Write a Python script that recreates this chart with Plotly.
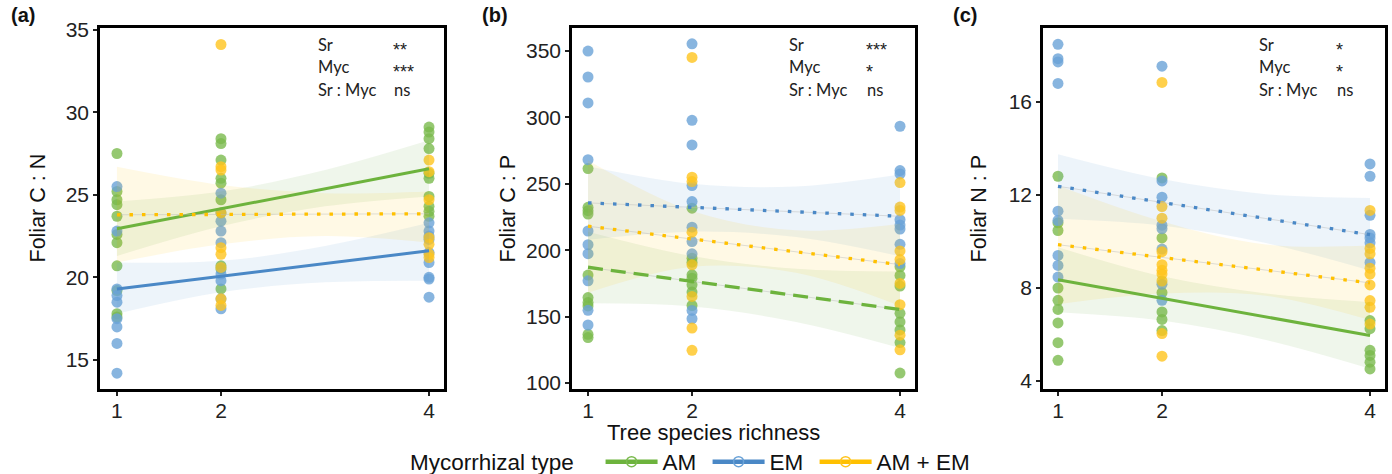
import plotly.graph_objects as go

# ---------------- data ----------------
RICHNESS_TICKS = [1, 2, 4]
GROUP_NAMES = ["AM", "EM", "AM + EM"]

# Panel (a): Foliar C : N  -- observations per tree species richness level
CN_AM = {1: [27.5, 25.2, 24.7, 24.4, 23.7, 22.6, 22.1, 20.7, 19.2, 17.8, 17.6],
         2: [28.4, 28.1, 27.1, 26.0, 25.7, 24.7, 20.7, 20.5, 19.3],
         4: [29.1, 28.8, 28.4, 27.8, 26.3, 26.0, 24.9, 24.3, 24.0, 23.7]}
CN_EM = {1: [25.5, 22.8, 19.3, 18.9, 18.5, 17.5, 17.0, 16.0, 14.2],
         2: [25.1, 23.9, 23.4, 22.8, 22.1, 20.2, 19.8, 18.7, 18.1],
         4: [23.3, 22.8, 22.5, 22.3, 21.5, 20.9, 20.0, 19.9, 18.8]}
CN_MIX = {2: [34.1, 26.7, 26.5, 23.9, 21.8, 21.4, 20.6, 18.7, 18.3],
          4: [27.1, 26.4, 24.7, 22.4, 22.0, 21.4, 21.2]}

# Panel (b): Foliar C : P
CP_AM = {1: [261.5, 232.3, 229.8, 227.3, 181.3, 164.4, 160.6, 158.1, 136.7, 134.2],
         2: [231.7, 194.0, 191.0, 181.5, 179.0, 174.0, 168.5, 158.4],
         4: [187.5, 181.0, 173.0, 152.5, 146.0, 140.0, 130.5, 107.5]}
CP_EM = {1: [350.0, 330.5, 311.0, 268.2, 214.5, 204.2, 197.4, 177.0, 154.8, 143.7],
         2: [355.5, 297.9, 279.3, 248.7, 236.7, 217.4, 206.6, 197.3, 154.7, 148.4],
         4: [293.4, 260.0, 257.5, 223.0, 219.0, 216.0, 204.5, 190.0]}
CP_MIX = {2: [345.2, 255.0, 251.7, 213.6, 189.0, 165.2, 141.4, 124.6],
          4: [251.0, 232.5, 230.0, 199.5, 193.0, 175.0, 159.0, 136.0, 125.0]}

# Panel (c): Foliar N : P
NP_AM = {1: [12.8, 10.8, 10.47, 8.0, 7.47, 7.08, 6.5, 5.65, 4.89],
         2: [12.73, 10.15, 7.8, 6.97, 6.65, 6.17],
         4: [6.6, 6.25, 5.32, 5.1, 4.81, 4.52]}
NP_EM = {1: [18.47, 17.85, 17.71, 16.79, 11.3, 10.9, 9.4, 8.97, 8.47],
         2: [17.53, 12.6, 11.9, 10.7, 10.55, 9.67, 8.16, 7.47],
         4: [13.33, 12.8, 11.12, 10.3, 10.15, 9.94, 9.1]}
NP_MIX = {2: [16.83, 11.5, 11.0, 9.56, 9.0, 8.76, 8.6, 8.3, 6.04, 5.07],
          4: [11.33, 9.7, 9.47, 8.85, 8.6, 8.13, 7.46, 7.17, 6.45]}

# Fitted regression lines (values at richness 1 and 4)
FIT_X = [1, 4]
CN_FIT_AM, CN_FIT_EM, CN_FIT_MIX = [22.94, 26.58], [19.29, 21.61], [23.79, 23.85]
CP_FIT_AM, CP_FIT_EM, CP_FIT_MIX = [187.2, 155.3], [235.7, 225.6], [218.1, 189.2]
NP_FIT_AM, NP_FIT_EM, NP_FIT_MIX = [8.35, 5.96], [12.37, 10.29], [9.86, 8.22]

# Confidence bands (lower, upper) at richness 1, 2, 3, 4
BAND_X = [1, 2, 3, 4]
CN_BAND_AM = ([21.3, 23.1, 24.3, 24.9], [24.6, 25.2, 26.5, 28.3])
CN_BAND_EM = ([17.8, 19.1, 19.7, 19.8], [20.9, 21.0, 21.9, 23.3])
CN_BAND_MIX = ([20.9, 22.0, 22.5, 22.1], [26.7, 25.6, 25.1, 25.2])
CP_BAND_AM = ([160.0, 157.6, 146.0, 126.4], [214.0, 195.6, 186.0, 184.0])
CP_BAND_EM = ([208.0, 214.0, 210.0, 195.5], [263.3, 250.0, 248.0, 257.0])
CP_BAND_MIX = ([167.9, 187.5, 183.0, 158.0], [267.6, 229.5, 215.0, 220.0])
NP_BAND_AM = ([6.96, 6.6, 5.76, 4.53], [9.75, 8.5, 7.76, 7.39])
NP_BAND_EM = ([10.97, 10.68, 9.93, 8.75], [13.75, 12.68, 12.03, 11.87])
NP_BAND_MIX = ([7.3, 7.76, 7.67, 6.62], [12.4, 10.86, 9.87, 9.82])

# Significance annotations
STAT_TERMS = ["Sr", "Myc", "Sr : Myc"]
CN_STATS = ["**", "***", "ns"]
CP_STATS = ["***", "*", "ns"]
NP_STATS = ["*", "*", "ns"]

# ---------------- styling ----------------
W, H = 1392, 474
FONT = "Liberation Sans"
PT_COL = {"AM": "rgb(122,186,78)", "EM": "rgb(106,162,215)", "AM + EM": "rgb(255,196,30)"}
LN_COL = {"AM": "#6DB33D", "EM": "#4A88C6", "AM + EM": "#FFC000"}
BAND_COL = {"AM": "rgba(112,173,71,0.11)", "EM": "rgba(91,155,213,0.11)",
            "AM + EM": "rgba(255,192,0,0.10)"}
DOT = "3.5px,9px"
DASH = "15px,8px"


def pxx(x):
    return x / W


def pxy(y):
    return 1 - y / H


Y_DOMAIN = [pxy(389), pxy(28)]

panels = [
    dict(key="", xdom=[100, 444], xr=[0.837, 4.144], yr=[13.24, 35.1], ticks=[15, 20, 25, 30, 35],
         title="Foliar C : N", tcx=37, label="(a)", lx=9, sx=316, vx=391,
         pts=[CN_AM, CN_EM, CN_MIX], fits=[CN_FIT_AM, CN_FIT_EM, CN_FIT_MIX],
         bands=[CN_BAND_AM, CN_BAND_EM, CN_BAND_MIX], dashes=["solid", "solid", DOT],
         stats=CN_STATS),
    dict(key="2", xdom=[572, 915], xr=[0.846, 4.144], yr=[95.5, 367.4],
         ticks=[100, 150, 200, 250, 300, 350],
         title="Foliar C : P", tcx=507, label="(b)", lx=480, sx=787, vx=864,
         pts=[CP_AM, CP_EM, CP_MIX], fits=[CP_FIT_AM, CP_FIT_EM, CP_FIT_MIX],
         bands=[CP_BAND_AM, CP_BAND_EM, CP_BAND_MIX], dashes=[DASH, DOT, DOT],
         stats=CP_STATS),
    dict(key="3", xdom=[1043, 1385], xr=[0.856, 4.144], yr=[3.66, 19.17], ticks=[4, 8, 12, 16],
         title="Foliar N : P", tcx=978, label="(c)", lx=951, sx=1257, vx=1334,
         pts=[NP_AM, NP_EM, NP_MIX], fits=[NP_FIT_AM, NP_FIT_EM, NP_FIT_MIX],
         bands=[NP_BAND_AM, NP_BAND_EM, NP_BAND_MIX], dashes=["solid", DOT, DOT],
         stats=NP_STATS),
]

fig = go.Figure()
annotations = []

for p in panels:
    xa, ya = "x" + p["key"], "y" + p["key"]
    # points
    for g, data in zip(GROUP_NAMES, p["pts"]):
        xs, ys = [], []
        for r in RICHNESS_TICKS:
            for v in data.get(r, []):
                xs.append(r)
                ys.append(v)
        fig.add_trace(go.Scatter(x=xs, y=ys, mode="markers", xaxis=xa, yaxis=ya,
                                 marker=dict(size=11, color=PT_COL[g], opacity=0.8,
                                             line=dict(width=0)),
                                 showlegend=False, hoverinfo="skip"))
    # confidence bands
    for g, (lo, hi) in zip(GROUP_NAMES, p["bands"]):
        fig.add_trace(go.Scatter(x=BAND_X, y=lo, mode="lines", xaxis=xa, yaxis=ya,
                                 line=dict(width=0, shape="spline", color=BAND_COL[g]),
                                 showlegend=False, hoverinfo="skip"))
        fig.add_trace(go.Scatter(x=BAND_X, y=hi, mode="lines", xaxis=xa, yaxis=ya,
                                 line=dict(width=0, shape="spline", color=BAND_COL[g]),
                                 fill="tonexty", fillcolor=BAND_COL[g],
                                 showlegend=False, hoverinfo="skip"))
    # fitted lines
    for g, fit, dash in zip(GROUP_NAMES, p["fits"], p["dashes"]):
        if dash != "solid":
            fig.add_trace(go.Scatter(x=FIT_X, y=fit, mode="lines", xaxis=xa, yaxis=ya,
                                     line=dict(width=1, color="rgba(185,185,185,0.45)"),
                                     showlegend=False, hoverinfo="skip"))
        fig.add_trace(go.Scatter(x=FIT_X, y=fit, mode="lines", xaxis=xa, yaxis=ya,
                                 line=dict(width=3.3 if dash != "solid" else 3,
                                           color=LN_COL[g], dash=dash),
                                 showlegend=False, hoverinfo="skip"))

    axis_common = dict(showline=True, linecolor="black", linewidth=2.5, mirror=True,
                       ticks="outside", ticklen=4, tickwidth=2, tickcolor="#222",
                       showgrid=False, zeroline=False,
                       tickfont=dict(family=FONT, size=21, color="#222"))
    fig.update_layout(**{
        "xaxis" + p["key"]: dict(domain=[pxx(p["xdom"][0]), pxx(p["xdom"][1])],
                                 range=p["xr"], anchor=ya, tickvals=RICHNESS_TICKS,
                                 ticktext=[str(t) for t in RICHNESS_TICKS],
                                 ticklabelstandoff=-3, **axis_common),
        "yaxis" + p["key"]: dict(domain=Y_DOMAIN, range=p["yr"], anchor=xa,
                                 tickvals=p["ticks"], **axis_common),
    })

    # y title
    annotations.append(dict(text=p["title"], x=pxx(p["tcx"]), y=pxy(208.5), xref="paper",
                            yref="paper", textangle=-90, showarrow=False,
                            xanchor="center", yanchor="middle",
                            font=dict(family=FONT, size=21.5, color="#111")))
    # panel label
    annotations.append(dict(text="<b>" + p["label"] + "</b>", x=pxx(p["lx"]), y=pxy(15),
                            xref="paper", yref="paper", showarrow=False,
                            xanchor="left", yanchor="middle",
                            font=dict(family=FONT, size=20, color="#111")))
    # stats
    for i, (term, val) in enumerate(zip(STAT_TERMS, p["stats"])):
        yy = [45, 67, 90][i]
        annotations.append(dict(text=term, x=pxx(p["sx"]), y=pxy(yy), xref="paper",
                                yref="paper", showarrow=False, xanchor="left",
                                yanchor="middle",
                                font=dict(family="Lato", size=16.5, color="#222")))
        if val == "ns":
            annotations.append(dict(text=val, x=pxx(p["vx"] + 1), y=pxy(yy),
                                    xref="paper", yref="paper", showarrow=False,
                                    xanchor="left", yanchor="middle",
                                    font=dict(family="Lato", size=16.5, color="#222")))
        else:
            annotations.append(dict(text=val, x=pxx(p["vx"]), y=pxy(yy + 4.5),
                                    xref="paper", yref="paper", showarrow=False,
                                    xanchor="left", yanchor="middle",
                                    font=dict(family=FONT, size=18, color="#222")))

# x title
annotations.append(dict(text="Tree species richness", x=pxx(713), y=pxy(432), xref="paper",
                        yref="paper", showarrow=False, xanchor="center", yanchor="middle",
                        font=dict(family=FONT, size=22, color="#111")))

# legend entries
for g in GROUP_NAMES:
    fig.add_trace(go.Scatter(x=[None], y=[None], mode="lines+markers", name=g + " ",
                             line=dict(color=LN_COL[g], width=4.5),
                             marker=dict(symbol="circle-open", size=10,
                                         color=PT_COL[g],
                                         line=dict(width=1.5, color="rgba(255,255,255,0.5)")),
                             showlegend=True))

fig.update_layout(
    width=W, height=H,
    margin=dict(l=0, r=0, t=0, b=0, autoexpand=False),
    paper_bgcolor="white", plot_bgcolor="white",
    annotations=annotations,
    legend=dict(orientation="h", x=pxx(408), y=pxy(462), xanchor="left", yanchor="middle",
                traceorder="normal",
                title=dict(text="Mycorrhizal type   ", side="left",
                           font=dict(family=FONT, size=22.5, color="#111")),
                font=dict(family=FONT, size=22.5, color="#111"),
                itemwidth=52, bgcolor="rgba(0,0,0,0)"),
)

fig.write_html("out.html")
